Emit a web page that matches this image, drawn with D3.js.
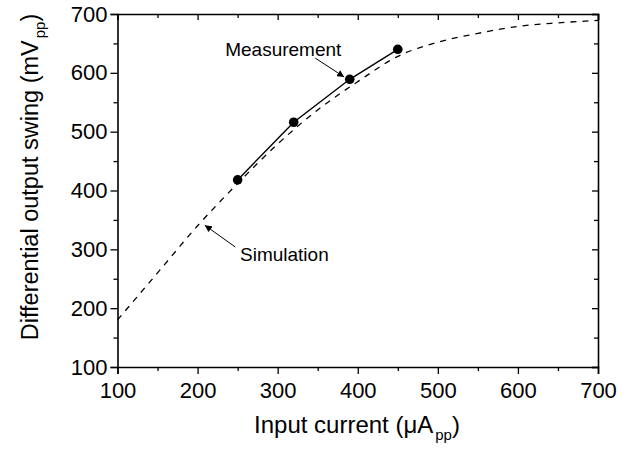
<html lang="en">
<head>
<meta charset="UTF-8">
<script src="https://d3js.org/d3.v7.min.js"></script>
<style>
  body { margin: 0; background: #fff; }
  text { font-family: "Liberation Sans", Arial, sans-serif; fill: #000; }
</style>
</head>
<body>
<div id="chart"></div>
<script>
// simulation curve (dashed)
const simX = [100, 150, 200, 250, 300, 350, 400, 450, 500, 550, 600, 650, 700];
const simY = [180, 260, 340, 412, 479, 537, 585, 628, 652, 667, 679, 685, 689];
// measured points
const measX = [250, 320, 390, 450];
const measY = [418, 516, 589, 640];
const xTicks = [100, 200, 300, 400, 500, 600, 700];
const yTicks = [100, 200, 300, 400, 500, 600, 700];

const W = 638, H = 451;
const mLeft = 117.5, mRight = 598, mTop = 14, mBottom = 367;

const svg = d3.select("#chart").append("svg")
  .attr("width", W).attr("height", H);

const x = d3.scaleLinear().domain([100, 700]).range([mLeft, mRight]);
const y = d3.scaleLinear().domain([100, 700]).range([mBottom, mTop]);

const minorX = d3.range(150, 700, 100);
const minorY = d3.range(150, 700, 100);

// bottom axis: major ticks outward with labels
svg.append("g")
  .attr("transform", `translate(0,${mBottom})`)
  .call(d3.axisBottom(x).tickValues(xTicks).tickSize(7).tickPadding(8).tickFormat(d3.format("d")))
  .call(g => g.selectAll("text").style("font-size", "22px"));
svg.append("g")
  .attr("transform", `translate(0,${mBottom})`)
  .call(d3.axisBottom(x).tickValues(minorX).tickSize(4).tickFormat(""))
  .call(g => g.select(".domain").remove());

// left axis
svg.append("g")
  .attr("transform", `translate(${mLeft},0)`)
  .call(d3.axisLeft(y).tickValues(yTicks).tickSize(7).tickPadding(3).tickFormat(d3.format("d")))
  .call(g => g.selectAll("text").style("font-size", "22px"));
svg.append("g")
  .attr("transform", `translate(${mLeft},0)`)
  .call(d3.axisLeft(y).tickValues(minorY).tickSize(4).tickFormat(""))
  .call(g => g.select(".domain").remove());

// top axis, ticks inward
svg.append("g")
  .attr("transform", `translate(0,${mTop})`)
  .call(d3.axisTop(x).tickValues(xTicks).tickSize(-6).tickFormat(""));
svg.append("g")
  .attr("transform", `translate(0,${mTop})`)
  .call(d3.axisTop(x).tickValues(minorX).tickSize(-4).tickFormat(""))
  .call(g => g.select(".domain").remove());

// right axis, ticks inward
svg.append("g")
  .attr("transform", `translate(${mRight},0)`)
  .call(d3.axisRight(y).tickValues(yTicks).tickSize(-6).tickFormat(""));
svg.append("g")
  .attr("transform", `translate(${mRight},0)`)
  .call(d3.axisRight(y).tickValues(minorY).tickSize(-4).tickFormat(""))
  .call(g => g.select(".domain").remove());

svg.selectAll(".domain").attr("stroke-width", 1.6);
svg.selectAll(".tick line").attr("stroke-width", 1.3);

// simulation
const sim = simX.map((d, i) => [d, simY[i]]);
svg.append("path")
  .datum(sim)
  .attr("fill", "none")
  .attr("stroke", "#000")
  .attr("stroke-width", 1.3)
  .attr("stroke-dasharray", "6,6")
  .attr("d", d3.line().x(d => x(d[0])).y(d => y(d[1])).curve(d3.curveMonotoneX));

// measurement
const meas = measX.map((d, i) => [d, measY[i]]);
svg.append("path")
  .datum(meas)
  .attr("fill", "none")
  .attr("stroke", "#000")
  .attr("stroke-width", 1.4)
  .attr("d", d3.line().x(d => x(d[0])).y(d => y(d[1])));
svg.append("g").selectAll("circle")
  .data(meas)
  .enter().append("circle")
  .attr("cx", d => x(d[0]))
  .attr("cy", d => y(d[1]))
  .attr("r", 4.8)
  .attr("fill", "#000");

// annotations
svg.append("defs").append("marker")
  .attr("id", "arr")
  .attr("viewBox", "0 0 10 10")
  .attr("refX", 10).attr("refY", 5)
  .attr("markerWidth", 7).attr("markerHeight", 7)
  .attr("markerUnits", "userSpaceOnUse")
  .attr("orient", "auto")
  .append("path").attr("d", "M0,0 L10,5 L0,10 Z").attr("fill", "#000");

svg.append("text")
  .attr("x", x(307)).attr("y", y(629))
  .attr("text-anchor", "middle")
  .style("font-size", "19px")
  .text("Measurement");
svg.append("line")
  .attr("x1", x(347)).attr("y1", y(625))
  .attr("x2", x(383)).attr("y2", y(593))
  .attr("stroke", "#000").attr("stroke-width", 1)
  .attr("marker-end", "url(#arr)");

svg.append("text")
  .attr("x", x(253)).attr("y", y(280))
  .style("font-size", "19px")
  .text("Simulation");
svg.append("line")
  .attr("x1", x(247)).attr("y1", y(304))
  .attr("x2", x(209)).attr("y2", y(341))
  .attr("stroke", "#000").attr("stroke-width", 1)
  .attr("marker-end", "url(#arr)");

// axis titles
const xt = svg.append("text")
  .attr("x", 357).attr("y", 433)
  .attr("text-anchor", "middle")
  .style("font-size", "24px");
xt.append("tspan").text("Input current (\u03bcA");
xt.append("tspan").attr("dx", 2).attr("dy", 7).style("font-size", "15px").text("pp");
xt.append("tspan").attr("dy", -7).text(")");

const yt = svg.append("text")
  .attr("transform", `translate(38,177) rotate(-90)`)
  .attr("text-anchor", "middle")
  .style("font-size", "23.5px");
yt.append("tspan").text("Differential output swing (mV");
yt.append("tspan").attr("dx", 2).attr("dy", 7).style("font-size", "15px").text("pp");
yt.append("tspan").attr("dy", -7).text(")");
</script>
</body>
</html>
